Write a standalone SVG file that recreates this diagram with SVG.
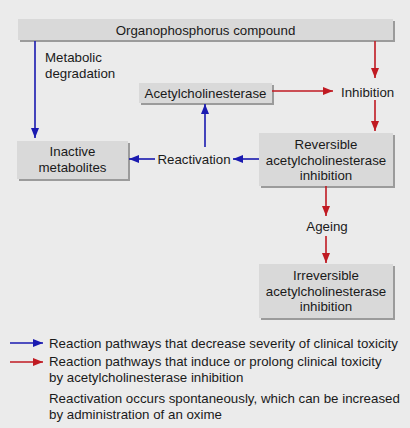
<svg xmlns="http://www.w3.org/2000/svg" width="410" height="428" viewBox="0 0 410 428">
<defs>
<style>
text{font-family:"Liberation Sans",Arial,sans-serif;font-size:13.3px;fill:#1a1a1a}
.c{text-anchor:middle}
.box{fill:#d9d9d9}
.sh{fill:#9b9b9b}
.b{stroke:#1a1ab0;stroke-width:1.6;fill:none}
.r{stroke:#c01a22;stroke-width:1.6;fill:none}
</style>
<marker id="ab" viewBox="0 0 10 8" refX="10" refY="4" markerWidth="10" markerHeight="8" markerUnits="userSpaceOnUse" orient="auto"><path d="M0,0L10,4L0,8z" fill="#1a1ab0"/></marker>
<marker id="ar" viewBox="0 0 10 8" refX="10" refY="4" markerWidth="10" markerHeight="8" markerUnits="userSpaceOnUse" orient="auto"><path d="M0,0L10,4L0,8z" fill="#c01a22"/></marker>
</defs>
<rect x="0" y="0" width="410" height="428" fill="#ebebeb"/>
<g id="organophosphorus">
<rect class="sh" x="20" y="21" width="375" height="21"/>
<rect class="box" x="18" y="19" width="375" height="21"/>
<text class="c" x="205.5" y="34.5">Organophosphorus compound</text>
</g>
<g id="acetylcholinesterase">
<rect class="sh" x="141" y="85" width="133" height="20"/>
<rect class="box" x="139" y="83" width="133" height="20"/>
<text class="c" x="205.5" y="97.5">Acetylcholinesterase</text>
</g>
<g id="inhibition">
<text x="341" y="96.5">Inhibition</text>
</g>
<g id="inactive">
<rect class="sh" x="19" y="143" width="111" height="38"/>
<rect class="box" x="17" y="141" width="111" height="38"/>
<text class="c" x="72.5" y="156">Inactive</text>
<text class="c" x="72.5" y="172">metabolites</text>
</g>
<g id="reactivation">
<text class="c" x="194" y="164">Reactivation</text>
</g>
<g id="reversible">
<rect class="sh" x="261" y="135" width="134" height="53"/>
<rect class="box" x="259" y="133" width="134" height="53"/>
<text class="c" x="326" y="149">Reversible</text>
<text class="c" x="326" y="164.5">acetylcholinesterase</text>
<text class="c" x="326" y="180">inhibition</text>
</g>
<g id="ageing">
<text class="c" x="327" y="231">Ageing</text>
</g>
<g id="irreversible">
<rect class="sh" x="261" y="266" width="134" height="54"/>
<rect class="box" x="259" y="264" width="134" height="54"/>
<text class="c" x="326" y="280">Irreversible</text>
<text class="c" x="326" y="295.5">acetylcholinesterase</text>
<text class="c" x="326" y="311">inhibition</text>
</g>
<g id="metabolic-label">
<text x="45" y="62">Metabolic</text>
<text x="45" y="78">degradation</text>
</g>
<g id="connectors">
<line class="b" x1="35" y1="41" x2="35" y2="138" marker-end="url(#ab)"/>
<line class="r" x1="375" y1="41" x2="375" y2="78" marker-end="url(#ar)"/>
<line class="r" x1="272" y1="91" x2="333" y2="91" marker-end="url(#ar)"/>
<line class="r" x1="375" y1="100" x2="375" y2="131" marker-end="url(#ar)"/>
<line class="b" x1="259" y1="159" x2="233" y2="159" marker-end="url(#ab)"/>
<line class="b" x1="155" y1="159" x2="129" y2="159" marker-end="url(#ab)"/>
<line class="b" x1="205" y1="147" x2="205" y2="104" marker-end="url(#ab)"/>
<line class="r" x1="326" y1="186" x2="326" y2="216" marker-end="url(#ar)"/>
<line class="r" x1="326" y1="236" x2="326" y2="263" marker-end="url(#ar)"/>
</g>
<g id="legend">
<line class="b" x1="10" y1="343" x2="43" y2="343" marker-end="url(#ab)"/>
<text x="49" y="347.5">Reaction pathways that decrease severity of clinical toxicity</text>
<line class="r" x1="10" y1="362" x2="43" y2="362" marker-end="url(#ar)"/>
<text x="49" y="366">Reaction pathways that induce or prolong clinical toxicity</text>
<text x="49" y="381.5">by acetylcholinesterase inhibition</text>
<text x="49" y="403">Reactivation occurs spontaneously, which can be increased</text>
<text x="49" y="418.5">by administration of an oxime</text>
</g>
</svg>
